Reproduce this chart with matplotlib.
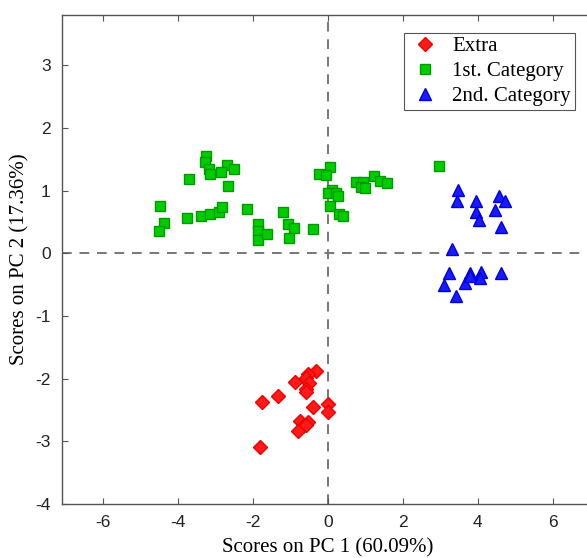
import matplotlib as mpl
import matplotlib.pyplot as plt
import numpy as np

# scores
extra_x = [-0.32, -0.52, -0.59, -0.88, -0.50, -0.59, -0.59, -1.34, -1.75, -0.39,
           0.01, 0.01, -0.75, -0.52, -0.66, -0.79, -0.57, -1.81]
extra_y = [-1.88, -1.93, -1.99, -2.05, -2.07, -2.17, -2.22, -2.28, -2.38, -2.46,
           -2.40, -2.53, -2.68, -2.70, -2.76, -2.84, -2.74, -3.09]

cat1_x = [-3.26, -3.28, -3.17, -3.15, -3.71, -2.68, -2.84, -2.51, -2.66, -4.48,
          -4.37, -4.51, -3.76, -3.38, -3.15, -2.91, -2.81, -2.15, -1.85, -1.87,
          -1.85, -1.63, -1.19, -1.07, -0.90, -1.04, -0.40, 0.07, -0.24, -0.04,
          0.10, 0.01, 0.23, 0.28, 0.07, 0.29, 0.41, 0.76, 0.94, 0.88,
          1.00, 1.22, 1.39, 1.57, 2.96]
cat1_y = [1.55, 1.46, 1.34, 1.27, 1.19, 1.41, 1.29, 1.34, 1.08, 0.76,
          0.48, 0.35, 0.56, 0.60, 0.62, 0.66, 0.74, 0.71, 0.46, 0.35,
          0.21, 0.30, 0.66, 0.46, 0.40, 0.25, 0.38, 1.37, 1.27, 1.24,
          1.01, 0.96, 0.96, 0.92, 0.76, 0.62, 0.60, 1.14, 1.14, 1.05,
          1.04, 1.23, 1.16, 1.12, 1.39]

cat2_x = [3.48, 3.45, 3.96, 4.57, 4.72, 3.96, 4.46, 4.02, 4.61, 3.31,
          3.23, 3.10, 3.80, 3.67, 4.08, 4.05, 4.63, 3.43, 3.79]
cat2_y = [1.01, 0.84, 0.84, 0.92, 0.84, 0.66, 0.69, 0.53, 0.42, 0.06,
          -0.32, -0.50, -0.32, -0.48, -0.30, -0.39, -0.31, -0.68, -0.36]

xticks = [-6, -4, -2, 0, 2, 4, 6]
yticks = [-4, -3, -2, -1, 0, 1, 2, 3]

mpl.rcParams['font.family'] = 'Liberation Sans'
mpl.rcParams['axes.linewidth'] = 1.0
mpl.rcParams['axes.unicode_minus'] = False

fig = plt.figure(figsize=(5.87, 5.58), dpi=100)
ax = fig.add_axes([0.105, 0.097, 0.907, 0.876])

ax.axvline(0, color='#777777', linestyle=(0, (5, 4)), linewidth=1.4, zorder=1)
ax.axhline(0, color='#777777', linestyle=(0, (5, 4)), linewidth=1.4, zorder=1)

ax.plot(extra_x, extra_y, 'D', color='#ff1a1a', markeredgecolor='#ee0000',
        markersize=7, linestyle='none', label='Extra', zorder=3)
ax.plot(cat1_x, cat1_y, 's', color='#00cc00', markeredgecolor='#009900',
        markersize=6.5, linestyle='none', label='1st. Category', zorder=3)
ax.plot(cat2_x, cat2_y, '^', color='#1a1aff', markeredgecolor='#0000dd',
        markersize=8, linestyle='none', label='2nd. Category', zorder=3)

ax.set_xlim(-7.1, 7.1)
ax.set_ylim(-4, 3.8)
ax.set_xticks(xticks)
ax.set_yticks(yticks)
ax.tick_params(direction='in', length=4, width=0.8, color='#555555',
               labelsize=12.5, labelcolor='#222222', top=True, right=True, pad=8)
for s in ax.spines.values():
    s.set_color('#555555')

ax.set_xlabel('Scores on PC 1 (60.09%)', family='Liberation Serif', fontsize=15, labelpad=6)
ax.set_ylabel('Scores on PC 2 (17.36%)', family='Liberation Serif', fontsize=15, labelpad=4)

leg = ax.legend(loc='upper right', bbox_to_anchor=(0.964, 0.964), borderaxespad=0,
                fancybox=False, framealpha=1, edgecolor='#555555',
                prop={'family': 'Liberation Serif', 'size': 15},
                handletextpad=0.5, borderpad=0.2, labelspacing=0.25, handlelength=1.6)
leg.get_frame().set_linewidth(0.8)

fig.savefig('out.png', dpi=100)
